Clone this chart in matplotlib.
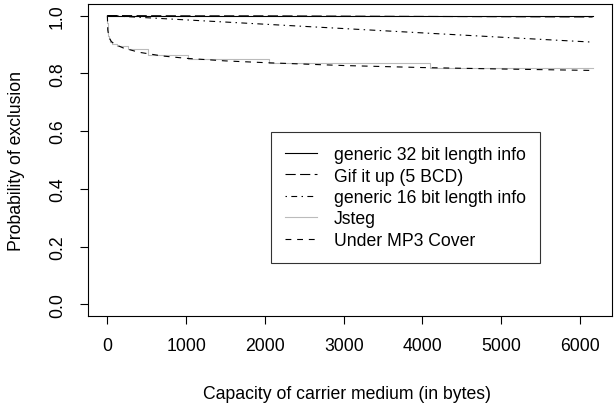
import matplotlib
matplotlib.use("Agg")
import matplotlib.pyplot as plt

plt.rcParams["font.family"] = ["Liberation Sans", "DejaVu Sans"]
plt.rcParams["lines.scale_dashes"] = False

# valores
x_flat = [0, 1000, 2000, 3000, 4000, 5000, 6160]
y_gen32 = [1.0, 1.0, 1.0, 1.0, 1.0, 1.0, 1.0]
y_gif = [1.0, 0.999, 0.999, 0.998, 0.997, 0.996, 0.995]
y_gen16 = [1.0, 0.985, 0.970, 0.955, 0.940, 0.925, 0.908]

x_jsteg = [0, 1, 2, 4, 8, 16, 32, 64, 128, 256, 512, 1024, 2048, 4096, 6160]
y_jsteg = [1.0, 0.975, 0.955, 0.94, 0.928, 0.918, 0.908, 0.90, 0.893, 0.883,
           0.862, 0.851, 0.837, 0.820, 0.820]

x_mp3 = [0, 5, 20, 50, 100, 200, 400, 700, 1000, 1500, 2000, 3000, 4000, 5000, 6160]
y_mp3 = [1.0, 0.95, 0.925, 0.91, 0.90, 0.888, 0.873, 0.86, 0.852, 0.843,
         0.837, 0.827, 0.82, 0.815, 0.81]

labels = ["generic 32 bit length info", "Gif it up (5 BCD)",
          "generic 16 bit length info", "Jsteg", "Under MP3 Cover"]

fs = 12.7
fig = plt.figure(figsize=(6.16, 4.06), dpi=100)
ax = fig.add_axes([88 / 616, 89 / 406, 524 / 616, 312 / 406])

u = 1.05
lw = 0.8
ax.plot(x_flat, y_gen32, color="black", lw=lw, label=labels[0])
ax.plot(x_flat, y_gif, color="black", lw=lw, linestyle=(0, (7 * u, 3 * u)), label=labels[1])
ax.plot(x_flat, y_gen16, color="black", lw=lw,
        linestyle=(0, (1 * u, 3 * u, 4 * u, 3 * u)), label=labels[2])
ax.step(x_jsteg, y_jsteg, where="post", color="#bbbbbb", lw=lw, label=labels[3])
ax.plot(x_mp3, y_mp3, color="black", lw=lw, linestyle=(0, (4 * u, 4 * u)), label=labels[4])

ax.set_xlim(-246, 6406)
ax.set_ylim(-0.04, 1.04)
ax.set_xticks([0, 1000, 2000, 3000, 4000, 5000, 6000])
ax.set_yticks([0.0, 0.2, 0.4, 0.6, 0.8, 1.0])
ax.set_yticklabels(["0.0", "0.2", "0.4", "0.6", "0.8", "1.0"], rotation=90, va="center")
ax.tick_params(direction="out", length=6, width=0.8, labelsize=fs, color="black")
ax.tick_params(axis="x", pad=9)
ax.tick_params(axis="y", pad=10)
for s in ax.spines.values():
    s.set_linewidth(0.8)

leg = ax.legend(loc="upper left", bbox_to_anchor=((271 - 88) / 524, (317 - 133) / 312),
                borderaxespad=0, frameon=True, fancybox=False, fontsize=fs,
                handlelength=1.8, handletextpad=0.95, labelspacing=0.25, borderpad=0.8)
leg.get_frame().set_edgecolor("black")
leg.get_frame().set_linewidth(0.8)

fig.text(17 / 616, 1 - 161 / 406, "Probability of exclusion", rotation=90,
         ha="center", va="center", fontsize=fs)
fig.text(347 / 616, 1 - 395 / 406, "Capacity of carrier medium (in bytes)",
         ha="center", va="center", fontsize=fs)

fig.savefig("out.png", dpi=100)
